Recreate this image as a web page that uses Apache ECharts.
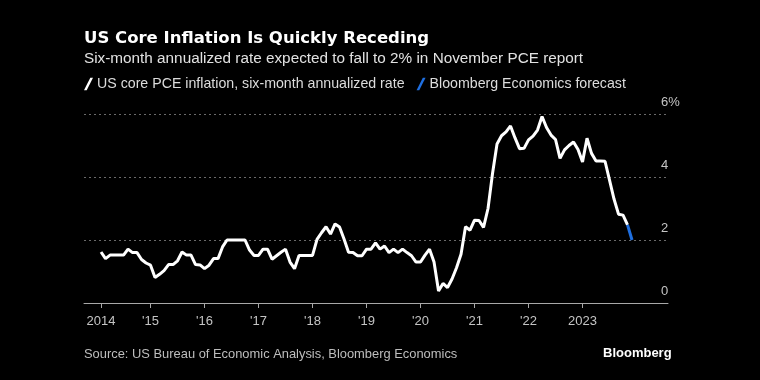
<!DOCTYPE html>
<html>
<head>
<meta charset="utf-8">
<script src="https://cdn.jsdelivr.net/npm/echarts@6/dist/echarts.min.js"></script>
<style>
html,body{margin:0;padding:0;background:#000;}
#chart{width:760px;height:380px;}
</style>
</head>
<body>
<div id="chart"></div>
<script>
// Monthly values, Jan 2014 .. Nov 2023 (six-month annualized core PCE, %)
const startYear = 2014;
const coreValues = [
  1.62, 1.41, 1.52, 1.52, 1.52, 1.52, 1.71, 1.60, 1.60, 1.38, 1.27, 1.20,
  0.81, 0.91, 1.03, 1.22, 1.22, 1.34, 1.62, 1.52, 1.52, 1.22, 1.21, 1.09,
  1.20, 1.41, 1.41, 1.78, 2.00, 2.00, 2.00, 2.00, 2.00, 1.68, 1.51, 1.51,
  1.71, 1.71, 1.39, 1.50, 1.61, 1.71, 1.30, 1.09, 1.51, 1.51, 1.51, 1.51,
  2.02, 2.23, 2.42, 2.19, 2.51, 2.41, 2.03, 1.61, 1.60, 1.50, 1.50, 1.71,
  1.71, 1.91, 1.71, 1.81, 1.60, 1.71, 1.60, 1.71, 1.60, 1.50, 1.30, 1.30,
  1.52, 1.71, 1.30, 0.38, 0.62, 0.49, 0.76, 1.12, 1.55, 2.42, 2.31, 2.63,
  2.62, 2.40, 3.00, 4.11, 5.05, 5.31, 5.43, 5.62, 5.24, 4.90, 4.91, 5.18,
  5.30, 5.49, 5.92, 5.57, 5.33, 5.19, 4.59, 4.86, 5.00, 5.11, 4.87, 4.48,
  5.23, 4.75, 4.51, 4.51, 4.50, 3.90, 3.30, 2.82, 2.79, 2.48
];
const forecastMonths = ['2023-10', '2023-11'];
const forecastValues = [2.48, 2.00];
const xTickValues = [2014 + 1/12, 2015, 2016, 2017, 2018, 2019, 2020, 2021, 2022, 2023];
const xTickLabels = ['2014', "'15", "'16", "'17", "'18", "'19", "'20", "'21", "'22", '2023'];
const yTicks = [0, 2, 4, 6];
const yTickLabels = ['0', '2', '4', '6%'];

// month-end position in fractional years
function monthPos(key) {
  const [y, m] = key.split('-').map(Number);
  return y + m / 12;
}
const coreMonths = coreValues.map((_, i) => {
  const y = startYear + Math.floor(i / 12);
  const m = (i % 12) + 1;
  return y + '-' + String(m).padStart(2, '0');
});
const coreData = coreValues.map((v, i) => [monthPos(coreMonths[i]), v]);
const forecastData = forecastValues.map((v, i) => [monthPos(forecastMonths[i]), v]);

const SANS = "'Liberation Sans', Arial, sans-serif";
const chart = echarts.init(document.getElementById('chart'), null, {renderer: 'canvas'});
const slash = 'path://M7,0 L10,0 L3,14 L0,14 Z';
chart.setOption({
  backgroundColor: '#000',
  animation: false,
  title: [
    {text: 'US Core Inflation Is Quickly Receding', left: 84, top: 30, padding: 0,
     textStyle: {color: '#fff', fontSize: 16.5, fontWeight: 'bold', fontFamily: "'DejaVu Sans', sans-serif"}},
    {text: 'Six-month annualized rate expected to fall to 2% in November PCE report', left: 84, top: 51, padding: 0,
     textStyle: {color: '#e2e2e2', fontSize: 15.3, fontWeight: 'normal', fontFamily: SANS}},
    {text: 'Source: US Bureau of Economic Analysis, Bloomberg Economics', left: 84, top: 348, padding: 0,
     textStyle: {color: '#bdbdbd', fontSize: 12.9, fontWeight: 'normal', fontFamily: SANS}},
    {text: 'Bloomberg', left: 603, top: 347, padding: 0,
     textStyle: {color: '#fff', fontSize: 13, fontWeight: 'bold', fontFamily: SANS}}
  ],
  legend: {
    left: 84, top: 77, padding: 0, itemWidth: 9, itemHeight: 13, itemGap: 12,
    textStyle: {color: '#dcdcdc', fontSize: 14.2, fontFamily: SANS, padding: [0, 0, 0, -1]},
    data: [
      {name: 'US core PCE inflation, six-month annualized rate', icon: slash},
      {name: 'Bloomberg Economics forecast', icon: slash}
    ],
    selectedMode: false
  },
  grid: {left: 84, right: 92, top: 114, bottom: 77, containLabel: false},
  xAxis: {
    type: 'value', min: 2013.768, max: 2024.583,
    axisLine: {show: true, lineStyle: {color: '#a8a8a8', width: 1}},
    axisTick: {show: true, customValues: xTickValues, length: 5, lineStyle: {color: '#a8a8a8'}},
    axisLabel: {
      customValues: xTickValues, color: '#c4c4c4', fontSize: 13, fontFamily: SANS, margin: 12,
      formatter: function (v) {
        let best = 0;
        xTickValues.forEach((t, i) => { if (Math.abs(t - v) < Math.abs(xTickValues[best] - v)) best = i; });
        return xTickLabels[best];
      }
    },
    splitLine: {show: false}
  },
  yAxis: {
    type: 'value', position: 'right', min: 0, max: 6, interval: 2,
    axisLine: {show: false}, axisTick: {show: false},
    splitLine: {show: true, lineStyle: {color: '#6a6a6a', type: [2, 3], width: 1}},
    axisLabel: {
      color: '#c4c4c4', fontSize: 13, fontFamily: SANS, margin: -7, align: 'left',
      verticalAlign: 'bottom', padding: [0, 0, 5, 0],
      formatter: function (v) { return yTickLabels[yTicks.indexOf(v)]; }
    }
  },
  series: [
    {name: 'US core PCE inflation, six-month annualized rate', type: 'line', data: coreData,
     showSymbol: false, lineStyle: {color: '#fff', width: 3}, itemStyle: {color: '#fff'}, z: 3},
    {name: 'Bloomberg Economics forecast', type: 'line', data: forecastData,
     showSymbol: false, lineStyle: {color: '#1f6fe0', width: 3}, itemStyle: {color: '#1f6fe0'}, z: 4}
  ]
});
</script>
</body>
</html>
